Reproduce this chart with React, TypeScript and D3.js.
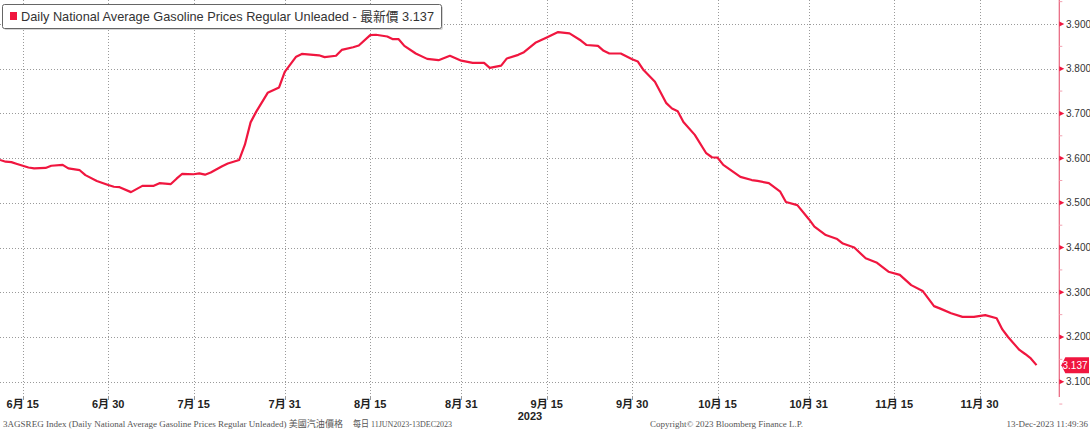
import React from "react";
import * as d3 from "d3";

const W = 1090;
const H = 432;

const dates: string[] = [
  "2023-06-11","2023-06-12","2023-06-13","2023-06-14","2023-06-16","2023-06-17","2023-06-19","2023-06-20",
  "2023-06-22","2023-06-23","2023-06-25","2023-06-26","2023-06-28","2023-06-30","2023-07-01","2023-07-02",
  "2023-07-04","2023-07-06","2023-07-08","2023-07-09","2023-07-11","2023-07-12","2023-07-13","2023-07-15",
  "2023-07-16","2023-07-17","2023-07-18","2023-07-20","2023-07-21","2023-07-23","2023-07-24","2023-07-25",
  "2023-07-26","2023-07-28","2023-07-30","2023-07-31","2023-08-02","2023-08-03","2023-08-06","2023-08-07",
  "2023-08-09","2023-08-10","2023-08-12","2023-08-13","2023-08-15","2023-08-16","2023-08-18","2023-08-19",
  "2023-08-20","2023-08-21","2023-08-23","2023-08-25","2023-08-27","2023-08-29","2023-08-31","2023-09-02",
  "2023-09-04","2023-09-05","2023-09-07","2023-09-08","2023-09-10","2023-09-11","2023-09-13","2023-09-15",
  "2023-09-17","2023-09-19","2023-09-21","2023-09-22","2023-09-24","2023-09-25","2023-09-26","2023-09-28",
  "2023-09-30","2023-10-01","2023-10-02","2023-10-04","2023-10-06","2023-10-07","2023-10-08","2023-10-09",
  "2023-10-11","2023-10-13","2023-10-14","2023-10-15","2023-10-16","2023-10-18","2023-10-19","2023-10-21",
  "2023-10-22","2023-10-24","2023-10-26","2023-10-27","2023-10-29","2023-10-31","2023-11-01","2023-11-03",
  "2023-11-05","2023-11-06","2023-11-08","2023-11-10","2023-11-12","2023-11-14","2023-11-16","2023-11-18",
  "2023-11-20","2023-11-22","2023-11-23","2023-11-25","2023-11-27","2023-11-29","2023-12-01","2023-12-03",
  "2023-12-04","2023-12-05","2023-12-07","2023-12-08","2023-12-09","2023-12-10",
];

const prices: number[] = [
  3.596,3.592,3.591,3.587,3.579,3.577,3.578,3.583,
  3.585,3.577,3.573,3.562,3.549,3.540,3.536,3.535,
  3.524,3.538,3.538,3.544,3.542,3.554,3.565,3.564,
  3.566,3.563,3.568,3.582,3.588,3.596,3.630,3.680,
  3.704,3.746,3.758,3.793,3.827,3.833,3.830,3.826,
  3.829,3.842,3.848,3.852,3.875,3.876,3.872,3.866,
  3.866,3.851,3.834,3.822,3.819,3.829,3.818,3.813,
  3.813,3.802,3.807,3.823,3.831,3.837,3.858,3.870,
  3.882,3.879,3.863,3.853,3.851,3.840,3.834,3.834,
  3.821,3.816,3.797,3.771,3.723,3.711,3.705,3.681,
  3.652,3.611,3.602,3.601,3.585,3.567,3.558,3.551,
  3.549,3.544,3.525,3.502,3.495,3.464,3.447,3.428,
  3.419,3.409,3.400,3.376,3.366,3.346,3.339,3.316,
  3.303,3.269,3.264,3.253,3.245,3.245,3.249,3.242,
  3.217,3.200,3.171,3.162,3.152,3.137,
];

const xTickDates: string[] = [
  "2023-06-15","2023-06-30","2023-07-15","2023-07-31","2023-08-15","2023-08-31",
  "2023-09-15","2023-09-30","2023-10-15","2023-10-31","2023-11-15","2023-11-30",
];
const xTickLabels: string[] = [
  "6月 15","6月 30","7月 15","7月 31","8月 15","8月 31",
  "9月 15","9月 30","10月 15","10月 31","11月 15","11月 30",
];
const yTicks: number[] = [3.1, 3.2, 3.3, 3.4, 3.5, 3.6, 3.7, 3.8, 3.9];
const yMinorTicks: number[] = [3.05, 3.15, 3.25, 3.35, 3.45, 3.55, 3.65, 3.75, 3.85, 3.95];

const legendText = "Daily National Average Gasoline Prices Regular Unleaded - 最新價 3.137";
const lastLabel = "3.137";
const yearLabel = "2023";
const footerLeft = "3AGSREG Index (Daily National Average Gasoline Prices Regular Unleaded) 美國汽油價格";
const footerFreq = "每日 11JUN2023-13DEC2023";
const footerMid = "Copyright© 2023 Bloomberg Finance L.P.";
const footerRight = "13-Dec-2023 11:49:36";

const parse = d3.utcParse("%Y-%m-%d");

export default function App() {
  const axisX = 1059.3;
  const plotBottom = 397;
  const x = d3
    .scaleUtc()
    .domain([parse("2023-06-11")!, parse("2023-12-14")!])
    .range([0, axisX]);
  const y = d3.scaleLinear().domain([3.1, 3.9]).range([381.7, 24]);

  const data = dates.map((d, i) => ({ date: parse(d)!, v: prices[i] }));
  const line = d3
    .line<{ date: Date; v: number }>()
    .x((d) => x(d.date))
    .y((d) => y(d.v))
    .curve(d3.curveLinear);

  const red = "#f0163f";
  const axisColor = "#e8627c";
  const grid = "#9a9a9a";
  const last = data[data.length - 1];
  const ly = y(last.v);

  const tickFont = "'Liberation Sans', 'Noto Sans CJK TC', sans-serif";
  const serif = "'Liberation Serif', 'Noto Sans CJK TC', serif";

  return (
    <svg
      width={W}
      height={H}
      style={{ position: "absolute", left: 0, top: 0, background: "#fff" }}
    >
      <rect x={0} y={0} width={W} height={H} fill="#fff" />
      {/* horizontal grid */}
      {yTicks.map((t) => (
        <line
          key={"h" + t}
          x1={0}
          x2={axisX}
          y1={Math.round(y(t)) + 0.5}
          y2={Math.round(y(t)) + 0.5}
          stroke={grid}
          strokeWidth={1}
          strokeDasharray="1,2"
        />
      ))}
      {/* vertical grid */}
      {xTickDates.map((d) => {
        const xx = Math.round(x(parse(d)!)) + 0.5;
        return (
          <g key={"v" + d}>
            <line
              x1={xx}
              x2={xx}
              y1={0}
              y2={plotBottom}
              stroke={grid}
              strokeWidth={1}
              strokeDasharray="1,2"
            />
            <line x1={xx} x2={xx} y1={plotBottom} y2={plotBottom + 3} stroke="#999" strokeWidth={1} />
          </g>
        );
      })}
      {/* x labels */}
      {xTickDates.map((d, i) => (
        <text
          key={"xl" + d}
          x={x(parse(d)!)}
          y={408}
          textAnchor="middle"
          fontFamily={tickFont}
          fontWeight="bold"
          fontSize={11}
          fill="#222"
        >
          {xTickLabels[i]}
        </text>
      ))}
      <text
        x={530}
        y={420}
        textAnchor="middle"
        fontFamily={tickFont}
        fontWeight="bold"
        fontSize={11}
        fill="#222"
      >
        {yearLabel}
      </text>

      {/* data line */}
      <path d={line(data) || ""} fill="none" stroke={red} strokeWidth={2.2} strokeLinejoin="round" />

      {/* right axis */}
      <line x1={axisX} x2={axisX} y1={0} y2={plotBottom} stroke={axisColor} strokeWidth={1.2} />
      {yMinorTicks.map((t) => (
        <line
          key={"m" + t}
          x1={axisX}
          x2={axisX + 3}
          y1={y(t)}
          y2={y(t)}
          stroke="#f2a0b0"
          strokeWidth={1}
        />
      ))}
      {yTicks.map((t) => (
        <g key={"yt" + t}>
          <path
            d={`M${axisX},${y(t) - 2.5} L${axisX + 5},${y(t)} L${axisX},${y(t) + 2.5} Z`}
            fill={red}
          />
          <text
            x={1066}
            y={y(t) + 3.5}
            fontFamily={tickFont}
            fontSize={10}
            fill="#333"
          >
            {d3.format(".3f")(t)}
          </text>
        </g>
      ))}
      {/* last value label */}
      <path
        d={`M${axisX + 2},${ly} L${axisX + 6},${ly - 8} L1089,${ly - 8} L1089,${ly + 8} L${axisX + 6},${ly + 8} Z`}
        fill={red}
      />
      <text
        x={1075}
        y={ly + 4}
        textAnchor="middle"
        fontFamily={tickFont}
        fontSize={10}
        fill="#fff"
      >
        {lastLabel}
      </text>

      {/* legend */}
      <rect x={4} y={6} width={439} height={24} rx={2} fill="#bbb" opacity={0.6} />
      <rect x={2.5} y={4.5} width={439} height={24} rx={2} fill="#fff" stroke="#666" strokeWidth={1} />
      <rect x={10} y={12} width={7} height={8} fill={red} />
      <text
        x={21}
        y={21}
        fontFamily={tickFont}
        fontSize={13}
        fill="#333"
        textLength={413}
        lengthAdjust="spacingAndGlyphs"
      >
        {legendText}
      </text>

      {/* footer */}
      <text x={3} y={427} fontFamily={serif} fontSize={9} fill="#555" textLength={340} lengthAdjust="spacingAndGlyphs">
        {footerLeft}
      </text>
      <text x={353} y={427} fontFamily={serif} fontSize={9} fill="#555" textLength={99} lengthAdjust="spacingAndGlyphs">
        {footerFreq}
      </text>
      <text x={650} y={427} fontFamily={serif} fontSize={9} fill="#555" textLength={153} lengthAdjust="spacingAndGlyphs">
        {footerMid}
      </text>
      <text x={1088} y={427} textAnchor="end" fontFamily={serif} fontSize={9} fill="#555">
        {footerRight}
      </text>
    </svg>
  );
}
